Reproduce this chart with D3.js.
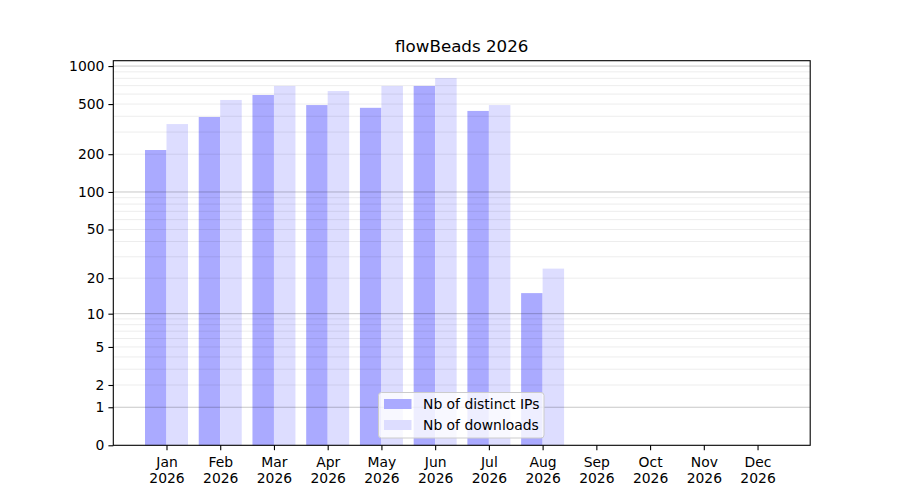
<!DOCTYPE html>
<html>
<head>
<meta charset="utf-8">
<script src="https://cdn.jsdelivr.net/npm/d3@7"></script>
<style>
  body { margin: 0; background: #fff; }
  text { font-family: "DejaVu Sans", sans-serif; fill: #000; }
</style>
</head>
<body>
<div id="wrap"></div>
<script>
var months = ['Jan', 'Feb', 'Mar', 'Apr', 'May', 'Jun', 'Jul', 'Aug', 'Sep', 'Oct', 'Nov', 'Dec'];
var year = '2026';
var distinctIPs = [216, 395, 590, 491, 467, 696, 441, 15, 0, 0, 0, 0];
var downloads = [347, 539, 696, 634, 696, 804, 491, 24, 0, 0, 0, 0];
var yTicks = [0, 1, 2, 5, 10, 20, 50, 100, 200, 500, 1000];
var majorGrid = [1, 10, 100, 1000];
var minorGrid = [2, 3, 4, 5, 6, 7, 8, 9, 20, 30, 40, 50, 60, 70, 80, 90,
                 200, 300, 400, 500, 600, 700, 800, 900];

var W = 900, H = 500;
var margin = {top: 60.7, bottom: 54.7, left: 113.3, right: 89.8},
    width = W - margin.left - margin.right,
    height = H - margin.top - margin.bottom;

var svg = d3.select('#wrap').append('svg')
    .attr('width', W)
    .attr('height', H);

var g = svg.append('g')
    .attr('transform', 'translate(' + margin.left + ',' + margin.top + ')');

var x = d3.scaleLinear()
    .domain([-0.99, 11.98])
    .range([0, width]);
var y = d3.scaleSymlog()
    .constant(1)
    .domain([0, 1103])
    .range([height, 0]);

// bars
g.selectAll('.ips')
  .data(distinctIPs)
  .enter().append('rect')
    .attr('class', 'ips')
    .attr('x', function(d, i){ return x(i - 0.4); })
    .attr('width', x(0.4) - x(0))
    .attr('y', function(d){ return y(d); })
    .attr('height', function(d){ return height - y(d); })
    .attr('fill', '#aaaaff');

g.selectAll('.dls')
  .data(downloads)
  .enter().append('rect')
    .attr('class', 'dls')
    .attr('x', function(d, i){ return x(i); })
    .attr('width', x(0.4) - x(0))
    .attr('y', function(d){ return y(d); })
    .attr('height', function(d){ return height - y(d); })
    .attr('fill', '#ddddff');

// grid on top of bars
g.selectAll('.minor')
  .data(minorGrid)
  .enter().append('line')
    .attr('x1', 0).attr('x2', width)
    .attr('y1', function(d){ return y(d); })
    .attr('y2', function(d){ return y(d); })
    .attr('stroke', '#000')
    .attr('stroke-opacity', 0.075)
    .attr('stroke-width', 1);

g.selectAll('.major')
  .data(majorGrid)
  .enter().append('line')
    .attr('x1', 0).attr('x2', width)
    .attr('y1', function(d){ return y(d); })
    .attr('y2', function(d){ return y(d); })
    .attr('stroke', '#000')
    .attr('stroke-opacity', 0.22)
    .attr('stroke-width', 1);

// axes
var yAxis = g.append('g')
    .call(d3.axisLeft(y).tickValues(yTicks).tickSize(4.9).tickPadding(4).tickFormat(d3.format('d')));
var xAxis = g.append('g')
    .attr('transform', 'translate(0,' + height + ')')
    .call(d3.axisBottom(x).tickValues(d3.range(12)).tickSize(4.9).tickPadding(4).tickFormat(''));

[yAxis, xAxis].forEach(function(a){
  a.select('.domain').remove();
  a.selectAll('.tick line').attr('stroke', '#000').attr('stroke-width', 1.1);
  a.selectAll('text').attr('font-size', '13.9px').attr('font-family', '"DejaVu Sans", sans-serif').attr('fill', '#000');
});

xAxis.selectAll('.tick').append('text')
    .attr('text-anchor', 'middle')
    .attr('font-size', '13.9px')
    .attr('fill', '#000')
    .each(function(d){
      var t = d3.select(this);
      t.append('tspan').attr('x', 0).attr('y', 21.5).text(months[d]);
      t.append('tspan').attr('x', 0).attr('y', 37.5).text(year);
    });

g.append('rect')
    .attr('x', 0).attr('y', 0)
    .attr('width', width).attr('height', height)
    .attr('fill', 'none')
    .attr('stroke', '#000')
    .attr('stroke-width', 1.1);

// title
svg.append('text')
    .attr('x', margin.left + width / 2)
    .attr('y', 52)
    .attr('text-anchor', 'middle')
    .attr('font-size', '16.7px')
    .text('flowBeads ' + year);

// legend
var legend = svg.append('g').attr('transform', 'translate(378.5,392.5)');
legend.append('rect')
    .attr('width', 165.5).attr('height', 45.5)
    .attr('rx', 3)
    .attr('fill', '#fff').attr('fill-opacity', 0.8)
    .attr('stroke', '#cccccc').attr('stroke-width', 1);
var items = [['Nb of distinct IPs', '#aaaaff'], ['Nb of downloads', '#ddddff']];
items.forEach(function(it, k){
  legend.append('rect')
      .attr('x', 5.5).attr('y', 6.5 + k * 21)
      .attr('width', 27.5).attr('height', 10)
      .attr('fill', it[1]);
  legend.append('text')
      .attr('x', 44.5).attr('y', 16.5 + k * 21)
      .attr('font-size', '13.9px')
      .text(it[0]);
});
</script>
</body>
</html>
